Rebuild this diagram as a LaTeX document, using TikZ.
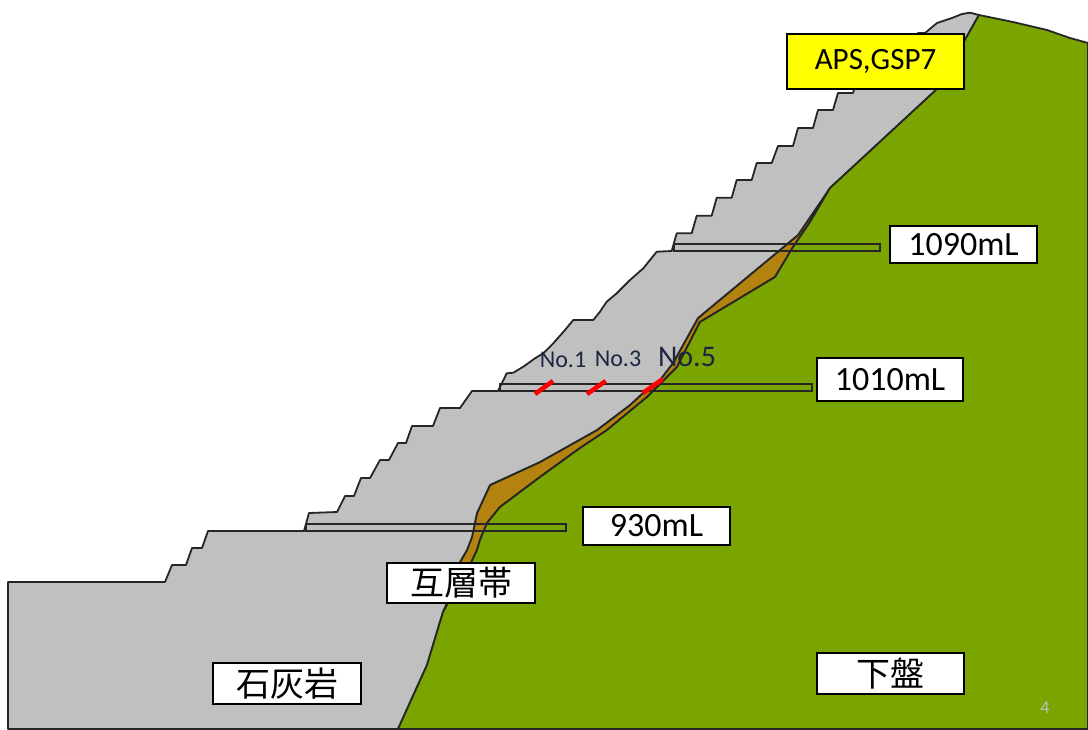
\documentclass[tikz,border=0pt]{standalone}
\usepackage{fontspec}
\setmainfont{Carlito}
\newfontfamily\jpfont{Noto Sans CJK JP}
\definecolor{limestone}{HTML}{C0C0C0}
\definecolor{footwall}{HTML}{7AA400}
\definecolor{interbed}{HTML}{B4820E}
\definecolor{outline}{HTML}{262626}
\definecolor{holetext}{HTML}{1C2541}
\definecolor{tag}{HTML}{FFFF00}
\begin{document}
\begin{tikzpicture}[x=1pt,y=-1pt,
  rock/.style={draw=outline, line width=1.8pt, line join=round},
  drift/.style={draw=outline, line width=1.2pt},
  hole/.style={draw=red, line width=4.5pt},
  lbl/.style={draw=black, line width=1.2pt, fill=white, inner sep=0pt, font=\fontsize{34}{38}\selectfont},
  jplbl/.style={lbl, font=\jpfont\fontsize{34}{38}\selectfont},
  holelbl/.style={text=holetext, inner sep=0pt}]

% canvas
\fill[white] (0,0) rectangle (1088,729);
\useasboundingbox (0,0) rectangle (1088,729);

% interbedded zone (brown band between limestone and footwall)
\fill[interbed, rock]
  (830,188) -- (798,235) -- (698,318) -- (673,363) -- (660,380) -- (643,393)
  -- (630,405) -- (597,430) -- (540,462) -- (490,485) -- (477,513) -- (472,537)
  -- (467,550) -- (460,562) -- (447,603) -- (443,612)
  -- (455,590) -- (470,565) -- (477,550) -- (480,540) -- (487,523) -- (500,507)
  -- (540,477) -- (580,448) -- (607,430) -- (647,397) -- (662,382) -- (677,367)
  -- (700,322) -- (775,277) -- (793,247) -- (810,222) -- cycle;

% limestone with benched slope
\fill[limestone, rock]
  (8,582) -- (165,582) -- (172,565) -- (186,565) -- (192,548) -- (202,548)
  -- (208,531) -- (304,531) -- (309,513) -- (337,512) -- (345,496) -- (354,496)
  -- (361,478) -- (370,478) -- (380,460) -- (389,460) -- (398,443) -- (406,443)
  -- (412,426) -- (433,426) -- (440,408) -- (460,408) -- (472,391) -- (498,391)
  -- (506.7,373.3) -- (513.3,372.7) -- (523.3,366.7) -- (535,358.3) -- (543.3,353.3)
  -- (553.3,343.3) -- (565,330) -- (573.3,320) -- (593.3,320) -- (600,311.7)
  -- (606.7,301.7) -- (616.7,293.3) -- (630,280) -- (643.3,268.3) -- (656.7,251.7)
  -- (671.7,251) -- (676.7,233.3) -- (691.7,233.3) -- (696.7,215.7) -- (711.7,215.7)
  -- (716.7,197.7) -- (731.7,197.7) -- (736.7,180) -- (751.7,180) -- (756.7,163)
  -- (771.7,163) -- (778,146) -- (793,146) -- (798,128) -- (813,128) -- (818,110)
  -- (833,110) -- (838,93) -- (853,93) -- (858,75.5) -- (873,75.5) -- (878,58)
  -- (893,58) -- (898,40) -- (913,40) -- (918,33) -- (925,33) -- (937,23)
  -- (952,18) -- (962,14) -- (970,12.7) -- (979,15) -- (937,89) -- (830,188)
  -- (798,235) -- (698,318) -- (673,363) -- (660,380) -- (643,393) -- (630,405)
  -- (597,430) -- (540,462) -- (490,485) -- (477,513) -- (472,537) -- (467,550)
  -- (460,562) -- (447,603) -- (443,612) -- (427,665) -- (398,729) -- (8,729) -- cycle;

% footwall
\fill[footwall, rock]
  (979,15) -- (1013,22) -- (1047,30) -- (1070,38) -- (1088,43) -- (1088,729)
  -- (398,729) -- (427,665) -- (443,612) -- (455,590) -- (470,565) -- (477,550)
  -- (480,540) -- (487,523) -- (500,507) -- (540,477) -- (580,448) -- (607,430)
  -- (647,397) -- (662,382) -- (677,367) -- (700,322) -- (775,277) -- (793,247)
  -- (810,222) -- (830,188) -- (937,89) -- cycle;

% drifts
\draw[drift] (674,244) rectangle (880,251);
\draw[drift] (500,384) rectangle (812,391);
\draw[drift] (306,524) rectangle (566,531);

% drill holes
\coordinate (h1a) at (535,394);   \coordinate (h1b) at (553,381);
\coordinate (h3a) at (587,394);   \coordinate (h3b) at (605.7,381);
\coordinate (h5a) at (643,393);   \coordinate (h5b) at (662.7,379);
\draw[hole] (h1a) -- (h1b);
\draw[hole] (h3a) -- (h3b);
\draw[hole] (h5a) -- (h5b);
\node[holelbl, font=\fontsize{24}{28}\selectfont] (n1) at (563,360) {No.1};
\node[holelbl, font=\fontsize{24}{28}\selectfont] (n3) at (618,359) {No.3};
\node[holelbl, font=\fontsize{30}{34}\selectfont] (n5) at (687,357) {No.5};

% labels
\node[lbl, fill=tag, minimum width=177pt, minimum height=55pt, font=\fontsize{31}{36}\selectfont] (aps) at (875.5,61.5) {APS,GSP7};
\node[lbl, minimum width=147pt, minimum height=37pt] (l1090) at (963.5,244.5) {1090mL};
\node[lbl, minimum width=146pt, minimum height=43pt] (l1010) at (890,379.5) {1010mL};
\node[lbl, minimum width=147pt, minimum height=38pt] (l930) at (656.5,526) {930mL};
\node[jplbl, minimum width=148pt, minimum height=40pt] (zone) at (461,583) {互層帯};
\node[jplbl, minimum width=148pt, minimum height=41pt] (lime) at (287,683.5) {石灰岩};
\node[jplbl, minimum width=147pt, minimum height=41pt] (foot) at (890.5,673.5) {下盤};

% page number
\node[text=black!25, font=\fontsize{18}{20}\selectfont] (pg) at (1045,708) {4};
\end{tikzpicture}
\end{document}
